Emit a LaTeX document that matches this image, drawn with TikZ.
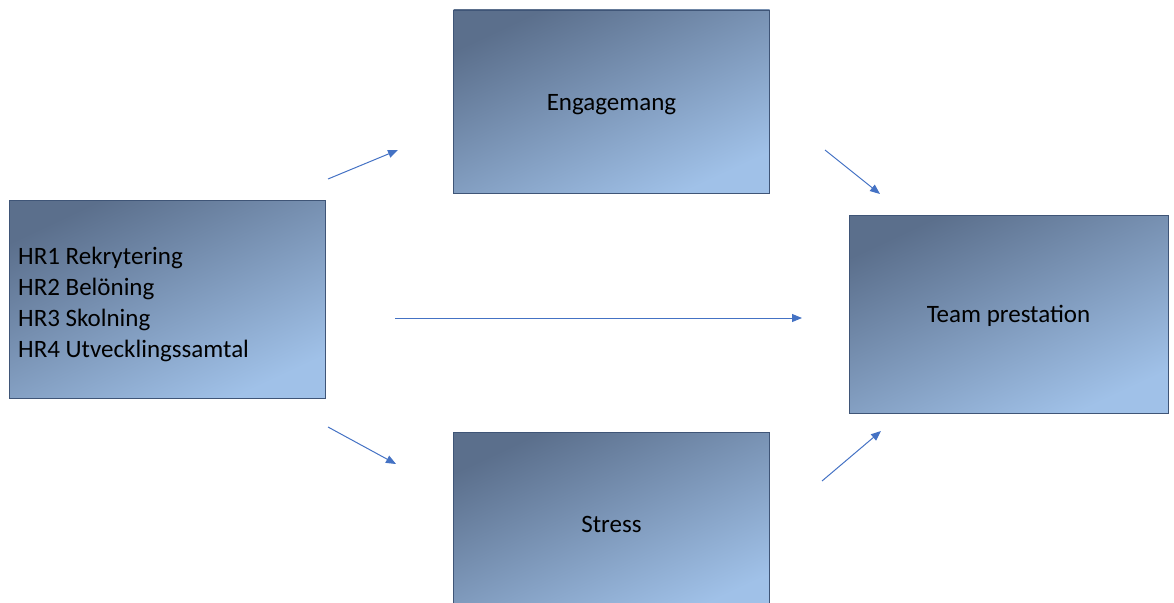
\documentclass[tikz,border=0pt]{standalone}
\usepackage{fontspec}
\setmainfont{Carlito}
\usepackage{xcolor}
\usetikzlibrary{arrows.meta}

\definecolor{boxdark}{HTML}{5B6F8C}
\definecolor{boxlight}{HTML}{A0C1E8}
\definecolor{boxline}{HTML}{3F5577}
\definecolor{arrowblue}{HTML}{4472C4}

\tikzset{
  gradbox/.style={draw=boxline, line width=0.8pt, shading=axis,
    top color=boxdark, bottom color=boxlight, shading angle=25,
    minimum width=316pt, text height=17pt, text depth=0pt,
    font=\fontsize{25}{31}\selectfont},
  flow/.style={arrowblue, line width=1pt, -{Triangle[length=10pt,width=8pt]}}
}

\begin{document}
\begin{tikzpicture}[x=1pt, y=-1pt]
    \useasboundingbox (0,0) rectangle (1174,602);
    \clip (0,0) rectangle (1174,602);

    % Boxes
    \node[gradbox, minimum height=198pt] (hr) at (167,299) {};
    \node[font=\fontsize{25}{31}\selectfont, align=left, anchor=west, inner sep=0pt]
        (hrlist) at (18,304) {HR1 Rekrytering\\HR2 Belöning\\HR3 Skolning\\HR4 Utvecklingssamtal};
    \node[gradbox, minimum height=183pt] (eng) at (611.5,101.5) {Engagemang};
    \node[gradbox, minimum height=183pt] (stress) at (611.5,523.5) {Stress};
    \node[gradbox, minimum width=319pt, minimum height=198pt] (team) at (1008.5,314) {Team prestation};

    % Arrow end points
    \coordinate (hrup) at (328,179);
    \coordinate (engin) at (398,150);
    \coordinate (hrmid) at (395,318);
    \coordinate (teammid) at (802,318);
    \coordinate (hrdown) at (328,427);
    \coordinate (stressin) at (396,464);
    \coordinate (engout) at (825,150);
    \coordinate (teamup) at (880,194);
    \coordinate (stressout) at (822,481);
    \coordinate (teamdown) at (881,431);

    % Arrows
    \draw[flow] (hrup) -- (engin);
    \draw[flow] (hrmid) -- (teammid);
    \draw[flow] (hrdown) -- (stressin);
    \draw[flow] (engout) -- (teamup);
    \draw[flow] (stressout) -- (teamdown);
\end{tikzpicture}
\end{document}
